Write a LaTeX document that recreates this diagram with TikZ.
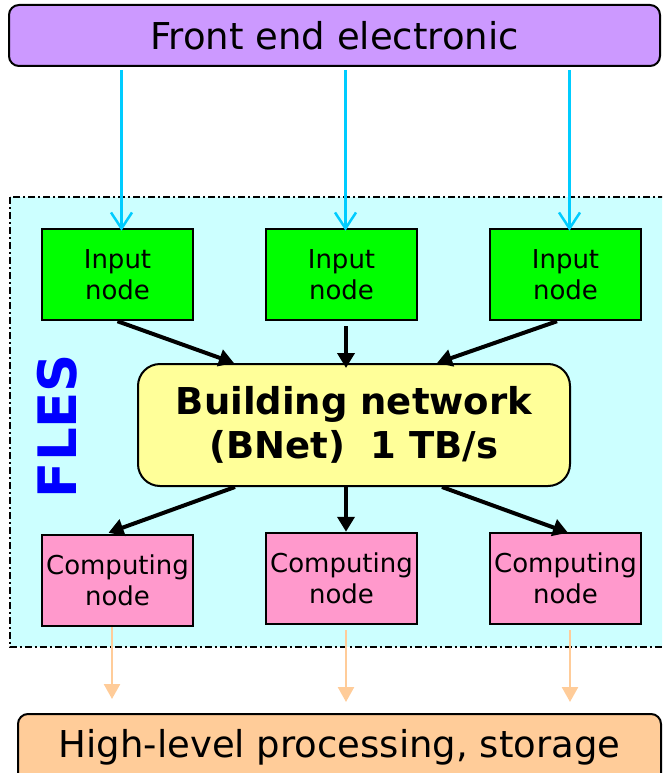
\documentclass[tikz,border=0pt]{standalone}
\usepackage{fontspec}
\setmainfont{DejaVu Sans}
\usetikzlibrary{arrows.meta,calc}

\definecolor{feepurple}{HTML}{CC99FF}
\definecolor{flescyan}{HTML}{CCFFFF}
\definecolor{inputgreen}{HTML}{00FF00}
\definecolor{bnetyellow}{HTML}{FFFF99}
\definecolor{comppink}{HTML}{FF99CC}
\definecolor{hlppeach}{HTML}{FFCC99}
\definecolor{feedcyan}{HTML}{00CCFF}

\begin{document}
\begin{tikzpicture}[x=1pt,y=-1pt,
  widebox/.style={draw=black, line width=2pt, rounded corners=10pt, inner sep=0pt,
    minimum height=61pt, font=\fontsize{37}{44}\selectfont},
  nodebox/.style={draw=black, line width=2.5pt, inner sep=0pt, align=center,
    minimum width=151pt, minimum height=91pt, font=\fontsize{26}{31}\selectfont},
  feed/.style={draw=feedcyan, line width=2.5pt, -{Straight Barb[length=16pt,width=21pt]}},
  flow/.style={draw=black, line width=4pt, -{Triangle[length=15pt,width=17pt]}},
  result/.style={draw=hlppeach, line width=2.5pt, -{Triangle[length=15pt,width=16pt]}}]

\useasboundingbox (0,0) rectangle (662,773);
\clip (0,0) rectangle (662,773);

% FLES
\draw[fill=flescyan, line width=2.5pt, dash pattern=on 7pt off 3pt on 2pt off 3pt]
  (10,197) rectangle (690,647);
\node[rotate=90, text=blue, font=\bfseries\fontsize{53}{60}\selectfont] (fles) at (57.5,426) {FLES};

% Boxen
\node[widebox, fill=feepurple, minimum width=651pt] (fee) at (334.5,35.5) {Front end electronic};
\node[widebox, fill=hlppeach, minimum width=643pt, minimum height=80pt,
  text height=27pt, text depth=20pt] (hlp) at (339.5,754) {High-level processing, storage};

% Input
\node[nodebox, fill=inputgreen] (in1) at (117.5,274.5) {Input\\node};
\node[nodebox, fill=inputgreen] (in2) at (341.5,274.5) {Input\\node};
\node[nodebox, fill=inputgreen] (in3) at (565.5,274.5) {Input\\node};

% BNet
\node[draw=black, line width=2pt, fill=bnetyellow, rounded corners=22pt, inner sep=0pt,
  minimum width=432pt, minimum height=122pt, align=center,
  font=\bfseries\fontsize{37}{44}\selectfont] (bnet) at (354,425)
  {Building network\\(BNet)\ \ 1 TB/s};

% Computing
\node[nodebox, fill=comppink] (cn1) at (117.5,580.5) {Computing\\node};
\node[nodebox, fill=comppink] (cn2) at (341.5,578.5) {Computing\\node};
\node[nodebox, fill=comppink] (cn3) at (565.5,578.5) {Computing\\node};

% Frecce
\draw[feed] ($(fee.south -| in1.north)+(4,3)$) -- ($(in1.north)+(4,3)$);
\draw[feed] ($(fee.south -| in2.north)+(4,3)$) -- ($(in2.north)+(4,3)$);
\draw[feed] ($(fee.south -| in3.north)+(4,3)$) -- ($(in3.north)+(4,3)$);

\draw[flow] (in1.south) -- ($(bnet.north west)+(97,0)$);
\draw[flow] ($(in2.south)+(4.5,5)$) -- ($(in2.south |- bnet.north)+(4.5,5)$);
\draw[flow] ($(in3.south)+(-8.5,0)$) -- ($(bnet.north west)+(300,0)$);

\draw[flow] ($(bnet.south west)+(98,0)$) -- ($(cn1.north)+(-9,-1)$);
\draw[flow] ($(bnet.south -| cn2.north)+(4.5,0)$) -- ($(cn2.north)+(4.5,0)$);
\draw[flow] ($(bnet.south west)+(305,0)$) -- ($(cn3.north)+(2.5,1)$);

\draw[result] ($(cn1.south)+(-5.5,0)$) -- ($(cn1.south |- hlp.north)+(-5.5,-14)$);
\draw[result] ($(cn2.south)+(4.5,5)$) -- ($(cn2.south |- hlp.north)+(4.5,-11)$);
\draw[result] ($(cn3.south)+(4.5,5)$) -- ($(cn3.south |- hlp.north)+(4.5,-11)$);

\end{tikzpicture}
\end{document}
